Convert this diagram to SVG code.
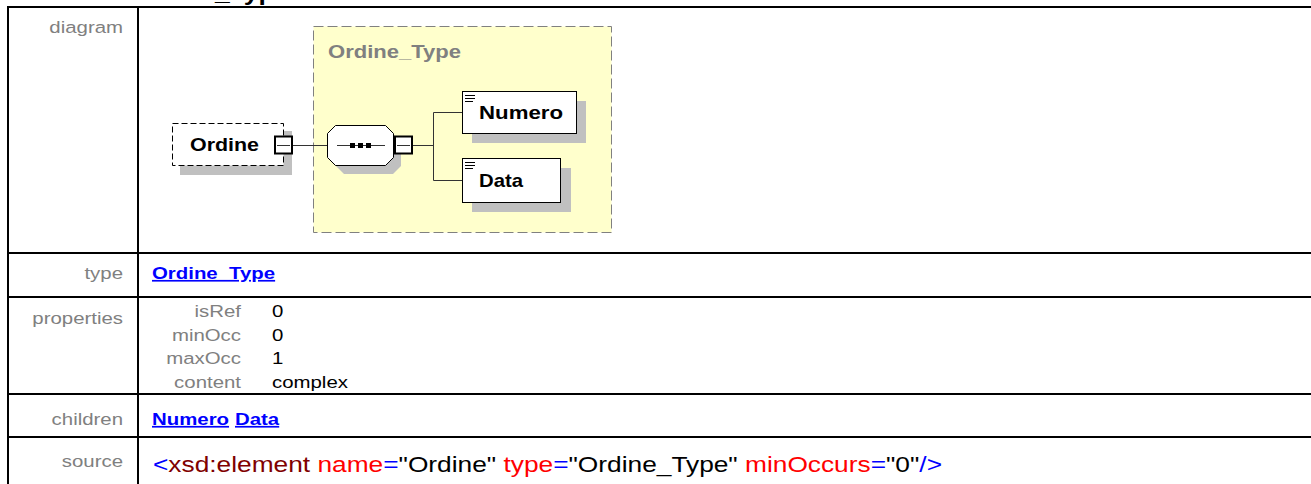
<svg xmlns="http://www.w3.org/2000/svg" width="1311" height="484" viewBox="0 0 1311 484">
<style>
text{font-family:"Liberation Sans",Arial,sans-serif;}
.lbl{font-size:17px;fill:#808080;text-anchor:end;}
.val{font-size:17px;fill:#000;}
.lnk{font-size:17px;fill:#0000FF;font-weight:bold;text-decoration:underline;}
.grid{stroke:#000;stroke-width:2;fill:none;}
.shadow{fill:#C0C0C0;}
.box{fill:#fff;stroke:#000;stroke-width:1;}
.exp{fill:#fff;stroke:#000;stroke-width:2;}
.conn{stroke:#333;stroke-width:1;fill:none;}
.nm{font-size:19px;font-weight:bold;fill:#000;}
.src{font-size:22px;}
</style>
<text x="0" y="0" transform="translate(23,0) scale(1.2,1)" style="font-size:22px;font-weight:bold;fill:#000">element Ordine_Type/Ordine</text>
<g id="table" class="grid">
<line x1="7" y1="7" x2="1311" y2="7"/>
<line x1="8" y1="6" x2="8" y2="484"/>
<line x1="138" y1="6" x2="138" y2="484"/>
<line x1="7" y1="253" x2="1311" y2="253"/>
<line x1="7" y1="297" x2="1311" y2="297"/>
<line x1="7" y1="394" x2="1311" y2="394"/>
<line x1="7" y1="437" x2="1311" y2="437"/>
</g>
<g id="labels">
<text class="lbl" transform="translate(123,33) scale(1.2,1)">diagram</text>
<text class="lbl" transform="translate(123,279) scale(1.2,1)">type</text>
<text class="lbl" transform="translate(123,324) scale(1.2,1)">properties</text>
<text class="lbl" transform="translate(123,425) scale(1.2,1)">children</text>
<text class="lbl" transform="translate(123,467) scale(1.2,1)">source</text>
</g>
<g id="type-row">
<text class="lnk" transform="translate(152,279) scale(1.2,1)">Ordine_Type</text>
</g>
<g id="properties-row">
<text class="lbl" transform="translate(241,317) scale(1.2,1)">isRef</text>
<text class="lbl" transform="translate(241,340.5) scale(1.2,1)">minOcc</text>
<text class="lbl" transform="translate(241,364) scale(1.2,1)">maxOcc</text>
<text class="lbl" transform="translate(241,387.5) scale(1.2,1)">content</text>
<text class="val" transform="translate(272,317) scale(1.2,1)">0</text>
<text class="val" transform="translate(272,340.5) scale(1.2,1)">0</text>
<text class="val" transform="translate(272,364) scale(1.2,1)">1</text>
<text class="val" transform="translate(272,387.5) scale(1.2,1)">complex</text>
</g>
<g id="children-row">
<text class="lnk" transform="translate(152,425) scale(1.2,1)">Numero</text>
<text class="lnk" transform="translate(235,425) scale(1.2,1)">Data</text>
</g>
<g id="source-row">
<text class="src" x="153" y="472" textLength="789" lengthAdjust="spacingAndGlyphs"><tspan fill="#0000FF">&lt;</tspan><tspan fill="#800000">xsd:element</tspan><tspan fill="#FF0000"> name</tspan><tspan fill="#0000FF">=</tspan><tspan fill="#000">"Ordine"</tspan><tspan fill="#FF0000"> type</tspan><tspan fill="#0000FF">=</tspan><tspan fill="#000">"Ordine_Type"</tspan><tspan fill="#FF0000"> minOccurs</tspan><tspan fill="#0000FF">=</tspan><tspan fill="#000">"0"</tspan><tspan fill="#0000FF">/&gt;</tspan></text>
</g>
<g id="Ordine_Type">
<rect x="313.5" y="26.5" width="298" height="206" fill="#FFFFCC" stroke="#808080" stroke-width="1" stroke-dasharray="10,4"/>
<text x="328" y="58" textLength="133" lengthAdjust="spacingAndGlyphs" style="font-size:18px;font-weight:bold;fill:#808080">Ordine_Type</text>
</g>
<g id="connectors" class="conn">
<line x1="292" y1="145.5" x2="327" y2="145.5"/>
<line x1="413" y1="145.5" x2="433.5" y2="145.5"/>
<line x1="433.5" y1="112.5" x2="433.5" y2="180.5"/>
<line x1="433.5" y1="112.5" x2="462" y2="112.5"/>
<line x1="433.5" y1="180.5" x2="462" y2="180.5"/>
</g>
<g id="Ordine">
<rect class="shadow" x="180" y="131" width="112" height="44"/>
<rect x="172.5" y="123.5" width="111" height="42" fill="#fff" stroke="#000" stroke-width="1" stroke-dasharray="6,3"/>
<text class="nm" x="190" y="151" textLength="69" lengthAdjust="spacingAndGlyphs">Ordine</text>
<rect class="exp" x="275" y="136.5" width="17" height="17"/>
<line x1="277" y1="145.5" x2="290" y2="145.5" stroke="#333" stroke-width="1"/>
</g>
<g id="sequence">
<polygon class="shadow" points="344,134 393,134 401,142 401,166 393,174 344,174 336,166 336,142"/>
<polygon class="box" points="335.5,125.5 385.5,125.5 393.5,133.5 393.5,157.5 385.5,165.5 335.5,165.5 327.5,157.5 327.5,133.5"/>
<line x1="337" y1="145.5" x2="385" y2="145.5" stroke="#333" stroke-width="1"/>
<rect x="350" y="143" width="5" height="5" fill="#000"/>
<rect x="358" y="143" width="5" height="5" fill="#000"/>
<rect x="366" y="143" width="5" height="5" fill="#000"/>
<rect class="exp" x="395" y="136.5" width="17" height="17"/>
<line x1="397" y1="145.5" x2="410" y2="145.5" stroke="#333" stroke-width="1"/>
</g>
<g id="Numero">
<rect class="shadow" x="472" y="101" width="114" height="42"/>
<rect class="box" x="462.5" y="91.5" width="114" height="42"/>
<path d="M465 95.5h10M465 98.5h10M465 101.5h8" stroke="#000" stroke-width="1"/>
<text class="nm" x="479" y="119" textLength="84" lengthAdjust="spacingAndGlyphs">Numero</text>
</g>
<g id="Data">
<rect class="shadow" x="472" y="168" width="99" height="44"/>
<rect class="box" x="462.5" y="158.5" width="98" height="44"/>
<path d="M465 162.5h10M465 165.5h10M465 168.5h8" stroke="#000" stroke-width="1"/>
<text class="nm" x="479" y="187" textLength="44" lengthAdjust="spacingAndGlyphs">Data</text>
</g>
</svg>
